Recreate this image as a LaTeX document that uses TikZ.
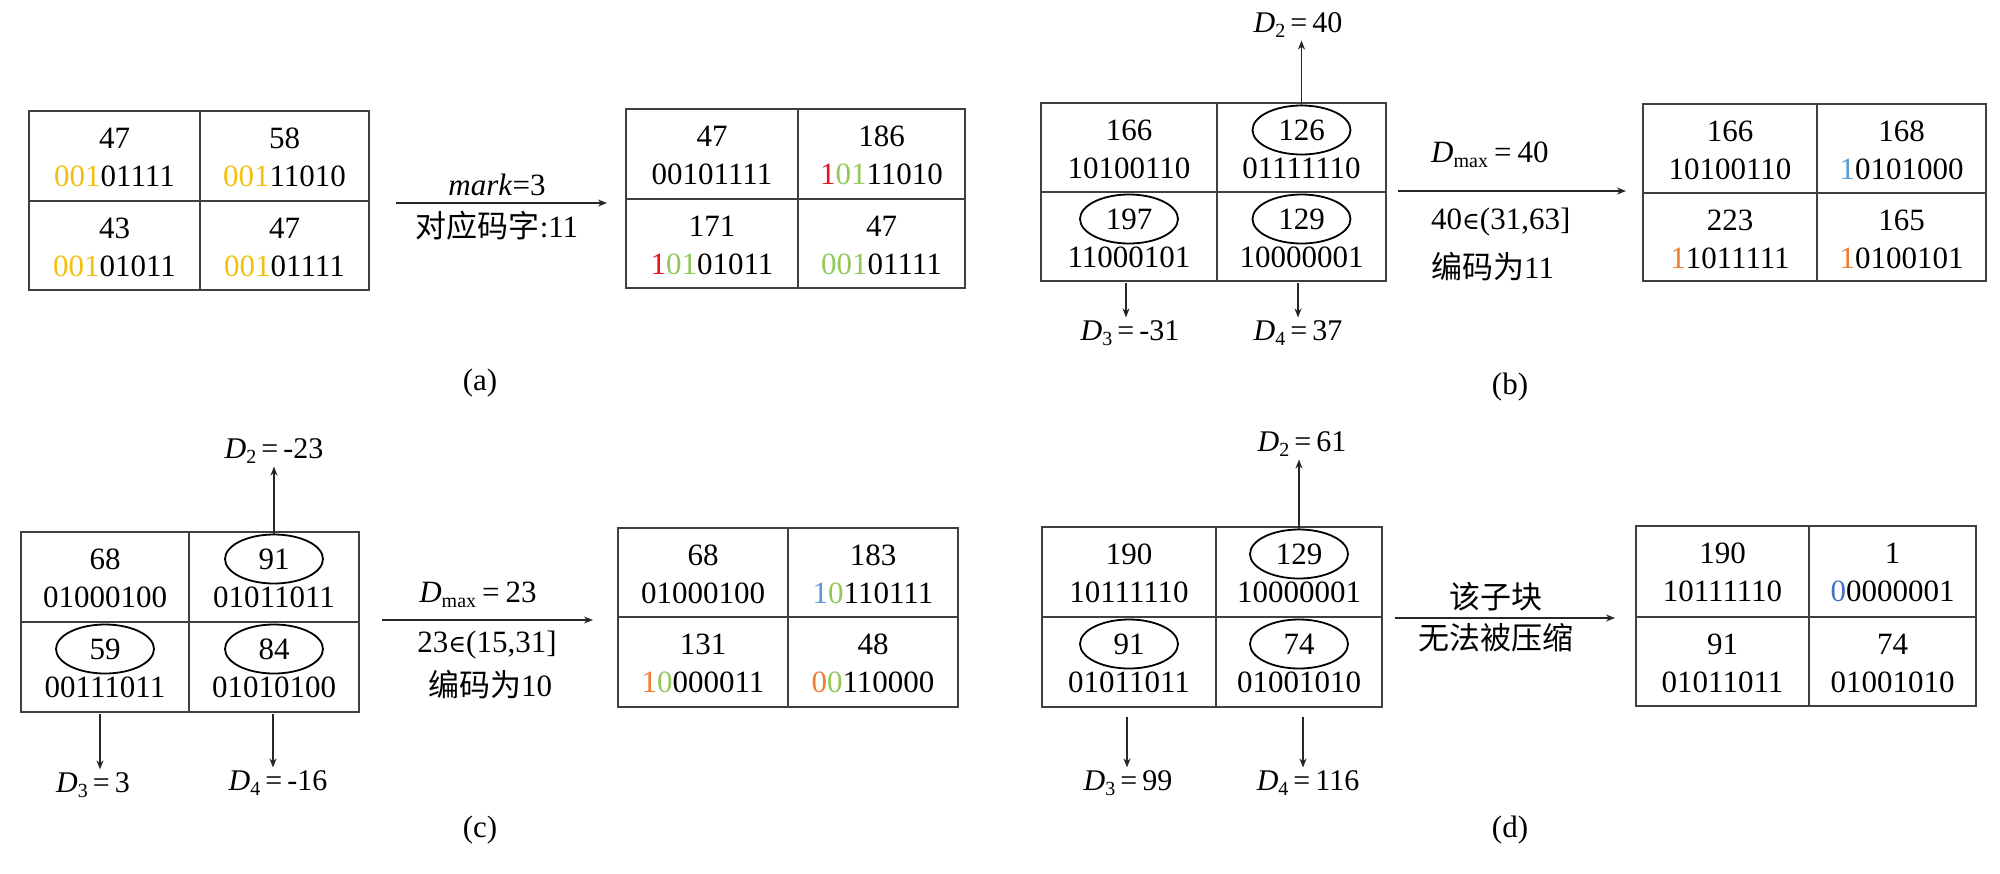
\documentclass[tikz,border=0pt]{standalone}
\usepackage{fontspec}
\setmainfont{Liberation Serif}
\newfontfamily\cjk{Noto Sans CJK SC}
\newfontfamily\symf{DejaVu Serif}
\usetikzlibrary{shapes.geometric,arrows.meta}
\definecolor{gridc}{HTML}{404040}
\definecolor{cgold}{HTML}{F2C012}
\definecolor{cred}{HTML}{E8141C}
\definecolor{cgreen}{HTML}{92C75A}
\definecolor{cblue}{HTML}{5B9BD5}
\definecolor{corange}{HTML}{ED7D31}
\definecolor{cdblue}{HTML}{4472C4}
\newcommand\Dsub[2]{\textit{D}\raisebox{-0.35ex}{\fontsize{20}{20}\selectfont #1}\kern5pt=\kern5pt#2}
\newcommand\Dmx[1]{\textit{D}\raisebox{-0.35ex}{\fontsize{20}{20}\selectfont max}\kern6pt=\kern6pt#1}
\newcommand\elem{{\symf\fontsize{24}{24}\selectfont ∈}}
\newcommand\mkgrid[6]{%
  \draw[gridline] (#1,#2) rectangle (#3,#4);
  \draw[gridline] (#5,#2) -- (#5,#4);
  \draw[gridline] (#1,#6) -- (#3,#6);}
\newcommand\cellt[5]{\node[txt] (#1) at (#2,#3) {#4};\node[txt] (#1b) at (#2,#3+38) {#5};}
\newcommand\cellte[5]{\node[txt,circ] (#1) at (#2,#3) {#4};\node[txt] (#1b) at (#2,#3+38) {#5};}
\begin{document}
\begin{tikzpicture}[x=1pt,y=-1pt,
  txt/.style={font=\fontsize{31}{37}\selectfont, inner sep=0pt},
  lab/.style={font=\fontsize{30}{36}\selectfont, inner sep=3pt},
  cjkt/.style={font=\fontsize{31}{36}\selectfont\cjk, inner sep=0pt},
  gridline/.style={draw=gridc, line width=2pt},
  circ/.style={ellipse, draw=black, line width=1.8pt, minimum width=98pt, minimum height=49pt},
  arr/.style={draw=black!85, line width=1.2pt, -{Stealth[length=9pt,width=7pt]}}]
\useasboundingbox (0,0) rectangle (2000,873);
\fill[white] (0,0) rectangle (2000,873);

% ---------------- (a)
\mkgrid{29}{111}{369}{290}{200}{201}
\cellt{a11}{114.5}{138}{47}{\textcolor{cgold}{001}01111}
\cellt{a12}{284.5}{138}{58}{\textcolor{cgold}{001}11010}
\cellt{a21}{114.5}{228}{43}{\textcolor{cgold}{001}01011}
\cellt{a22}{284.5}{228}{47}{\textcolor{cgold}{001}01111}

\mkgrid{626}{109}{965}{288}{798}{199}
\cellt{A11}{712}{136}{47}{00101111}
\cellt{A12}{881.5}{136}{186}{\textcolor{cred}{1}\textcolor{cgreen}{01}11010}
\cellt{A21}{712}{226}{171}{\textcolor{cred}{1}\textcolor{cgreen}{01}01011}
\cellt{A22}{881.5}{226}{47}{\textcolor{cgreen}{001}01111}

\coordinate (aS) at (396,203);
\coordinate (aE) at (607,203);
\draw[arr] (aS) -- (aE);
\node[txt] (aT1) at (497,185) {\textit{mark}=3};
\node[txt] (aT2) at (497,226) {{\cjk 对应码字}:11};
\node[txt] (alab) at (480,383) {(a)};

% ---------------- (b)
\mkgrid{1041}{103}{1386}{281}{1217}{192}
\cellt{b11}{1129}{130}{166}{10100110}
\cellte{b12}{1301.5}{130}{126}{01111110}
\cellte{b21}{1129}{219}{197}{11000101}
\cellte{b22}{1301.5}{219}{129}{10000001}
\node[lab] (bD2) at (1298,25) {\Dsub{2}{40}};
\node[lab] (bD3) at (1130,333) {\Dsub{3}{-31}};
\node[lab] (bD4) at (1298,333) {\Dsub{4}{37}};
\draw[arr] (b12) -- (b12 |- bD2.south);
\coordinate (bD3s) at (1126,283);
\coordinate (bD4s) at (1298,283);
\draw[arr] (bD3s) -- (bD3s |- bD3.north);
\draw[arr] (bD4s) -- (bD4s |- bD4.north);

\mkgrid{1643}{104}{1986}{281}{1817}{193}
\cellt{B11}{1730}{131}{166}{10100110}
\cellt{B12}{1901.5}{131}{168}{\textcolor{cblue}{1}0101000}
\cellt{B21}{1730}{220}{223}{\textcolor{corange}{1}1011111}
\cellt{B22}{1901.5}{220}{165}{\textcolor{corange}{1}0100101}

\coordinate (bS) at (1398,191);
\coordinate (bE) at (1626,191);
\draw[arr] (bS) -- (bE);
\node[txt,anchor=west] (bT1) at (1431,155) {\Dmx{40}};
\node[txt,anchor=west] (bT2) at (1431,222) {40\elem(31,63]};
\node[txt,anchor=west] (bT3) at (1431,267) {{\cjk 编码为}11};
\node[txt] (blab) at (1510,387) {(b)};

% ---------------- (c)
\mkgrid{21}{532}{359}{712}{189}{622}
\cellt{c11}{105}{559}{68}{01000100}
\cellte{c12}{274}{559}{91}{01011011}
\cellte{c21}{105}{649}{59}{00111011}
\cellte{c22}{274}{649}{84}{01010100}
\node[lab] (cD2) at (274,451) {\Dsub{2}{-23}};
\node[lab] (cD3) at (93,785) {\Dsub{3}{3}};
\node[lab] (cD4) at (278,783) {\Dsub{4}{-16}};
\draw[arr] (c12) -- (c12 |- cD2.south);
\coordinate (cD3s) at (100,714);
\coordinate (cD4s) at (273,714);
\draw[arr] (cD3s) -- (cD3s |- cD3.north);
\draw[arr] (cD4s) -- (cD4s |- cD4.north);

\mkgrid{618}{528}{958}{707}{788}{617}
\cellt{C11}{703}{555}{68}{01000100}
\cellt{C12}{873}{555}{183}{\textcolor{cblue}{1}\textcolor{cgreen}{0}110111}
\cellt{C21}{703}{644}{131}{\textcolor{corange}{1}\textcolor{cgreen}{0}000011}
\cellt{C22}{873}{644}{48}{\textcolor{corange}{0}\textcolor{cgreen}{0}110000}

\coordinate (cS) at (382,620);
\coordinate (cE) at (593,620);
\draw[arr] (cS) -- (cE);
\node[txt] (cT1) at (478,595) {\Dmx{23}};
\node[txt] (cT2) at (487,645) {23\elem(15,31]};
\node[txt] (cT3) at (490,685) {{\cjk 编码为}10};
\node[txt] (clab) at (480,830) {(c)};

% ---------------- (d)
\mkgrid{1042}{527}{1382}{707}{1216}{617}
\cellt{d11}{1129}{554}{190}{10111110}
\cellte{d12}{1299}{554}{129}{10000001}
\cellte{d21}{1129}{644}{91}{01011011}
\cellte{d22}{1299}{644}{74}{01001010}
\node[lab] (dD2) at (1302,444) {\Dsub{2}{61}};
\node[lab] (dD3) at (1128,783) {\Dsub{3}{99}};
\node[lab] (dD4) at (1308,783) {\Dsub{4}{116}};
\draw[arr] (d12) -- (d12 |- dD2.south);
\coordinate (dD3s) at (1127,717);
\coordinate (dD4s) at (1303,717);
\draw[arr] (dD3s) -- (dD3s |- dD3.north);
\draw[arr] (dD4s) -- (dD4s |- dD4.north);

\mkgrid{1636}{526}{1976}{706}{1809}{617}
\cellt{D11}{1722.5}{553}{190}{10111110}
\cellt{D12}{1892.5}{553}{1}{\textcolor{cdblue}{0}0000001}
\cellt{D21}{1722.5}{644}{91}{01011011}
\cellt{D22}{1892.5}{644}{74}{01001010}

\coordinate (dS) at (1395,618);
\coordinate (dE) at (1615,618);
\draw[arr] (dS) -- (dE);
\node[cjkt] (dT1) at (1496,597) {该子块};
\node[cjkt] (dT2) at (1496,638) {无法被压缩};
\node[txt] (dlab) at (1510,830) {(d)};
\end{tikzpicture}
\end{document}
